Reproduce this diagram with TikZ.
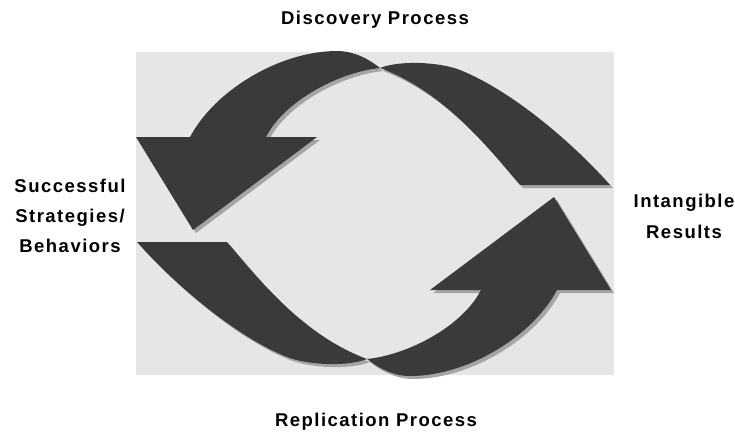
\documentclass[tikz,border=0pt]{standalone}
\usepackage{fontspec}
\setmainfont{Liberation Sans}
\newfontfamily\lblfont{Liberation Sans}[LetterSpace=8]
\definecolor{bgc}{RGB}{230,230,230}
\definecolor{arrowc}{RGB}{58,58,58}
\definecolor{shadowc}{RGB}{165,165,165}
\newcommand\cyclearrow[1]{%
  \fill[#1] (190,137)
    .. controls (215,90) and (280,51) .. (337,51)
    .. controls (355,51) and (370,60) .. (380,68)
    .. controls (400,60) and (440,62) .. (460,70)
    .. controls (510,90) and (570,140) .. (610,185)
    -- (520,185)
    .. controls (490,150) and (445,92) .. (380,68)
    .. controls (340,72) and (285,100) .. (266,137)
    -- (317,137) -- (193,230) -- (136,137) -- cycle;}
\tikzset{
  lbl/.style={font=\lblfont\fontsize{18.5}{22}\selectfont\bfseries, anchor=base, inner sep=0pt, text=black},
}
\begin{document}
\begin{tikzpicture}[x=1pt,y=-1pt]
\useasboundingbox (0,0) rectangle (735,432);
\fill[white] (0,0) rectangle (735,432);
\fill[bgc] (136,52) rectangle (614,375);
% shadows
\begin{scope}[shift={(3,3)}]
  \cyclearrow{shadowc}
  \begin{scope}[rotate around={180:(373.5,213.5)}]
    \cyclearrow{shadowc}
  \end{scope}
\end{scope}
% arrows
\cyclearrow{arrowc}
\begin{scope}[rotate around={180:(373.5,213.5)}]
  \cyclearrow{arrowc}
\end{scope}
% labels
\node[lbl] (disc) at (375,24) {Discovery Process};
\node[lbl] (repl) at (376,426) {Replication Process};
\node[lbl] (succ1) at (70,192) {Successful};
\node[lbl] (succ2) at (70,222) {Strategies/};
\node[lbl] (succ3) at (70,252) {Behaviors};
\node[lbl] (int1) at (684,207) {Intangible};
\node[lbl] (int2) at (684,238) {Results};
\end{tikzpicture}
\end{document}
